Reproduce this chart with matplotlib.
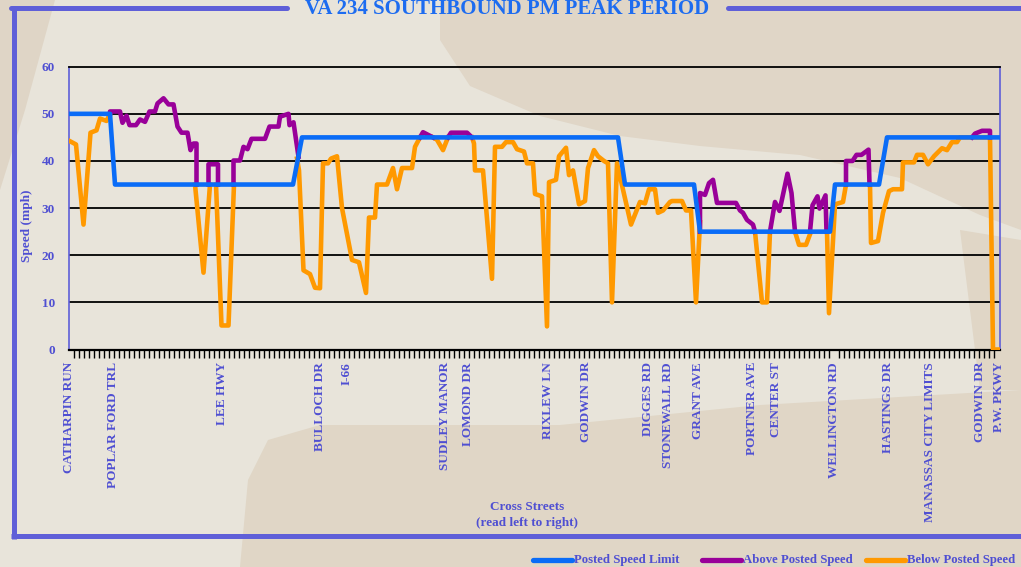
import numpy as np
import matplotlib
matplotlib.use("Agg")
import matplotlib.pyplot as plt
from matplotlib.lines import Line2D
from matplotlib.patches import Polygon

nan = np.nan

# ---------------- data ----------------
# distance along corridor (axis units, left to right) and speeds (mph)
limit_dist = [0, 8.2, 9.2, 44.8, 46.6, 109.8, 111.2, 125.0, 126.2, 152.2, 153.2, 162.0, 163.6, 186.2]
limit_mph = [50, 50, 35, 35, 45, 45, 35, 35, 25, 25, 35, 35, 45, 45]

below_dist = [0, 1.4, 2.9, 4.3, 5.5, 6.2, 7.5, 8.2, nan,
              25.2, 26.9, 28.2, nan,
              29.4, 30.5, 31.9, 33.0, nan,
              45.6, 46.0, 46.9, 48.2, 49.2, 50.2, 50.8, 51.8, 52.4, 53.6, 54.6, 56.6, 58.0, 59.4,
              60.0, 61.2, 61.6, 63.6, 64.8, 65.6, 66.6, 68.6, 69.2, 70.2, nan,
              72.8, 73.6, 74.8, 75.8, nan,
              80.6, 81.0, 81.2, 82.8, 84.6, 85.2, 86.6, 87.4, 88.8, 89.6,
              91.0, 91.6, 92.8, 93.2, 94.6, 95.6, 96.0, 97.4, 98.0, 99.4,
              100.0, 100.8, 102.0, 103.2, 103.8, 105.0, 105.8, 107.0, 107.8, 108.6,
              109.6, 112.4, 114.2, 115.2, 116.0, 117.2, 117.8, 118.8, 120.2, 120.6,
              122.6, 123.4, 124.4, 125.4, 126.2, nan,
              137.2, 138.6, 139.6, 140.2, nan,
              145.2, 146.0, 147.4, 148.4, nan,
              151.6, 152.0, 153.2, 154.8, 155.4, nan,
              160.2, 160.4, 161.8, 162.8, 164.0, 164.8, 166.6, 166.8, 169.0, 169.6,
              170.8, 171.8, 173.0, 174.6, 175.6, 176.6, 177.6, 178.2, 180.6, 184.2,
              184.8, 186.2]
below_mph = [44.3, 43.5, 26.5, 46, 46.5, 49, 48.5, 50, nan,
             35, 16.3, 35, nan,
             35, 5.1, 5.1, 35, nan,
             40.5, 38, 16.8, 16, 13.1, 13, 39.5, 39.5, 40.5, 41, 30, 19, 18.5, 12,
             28, 28, 35, 35, 38.5, 34, 38.5, 38.5, 43, 45, nan,
             45, 44.5, 42.3, 45, nan,
             45, 43.7, 38, 38, 15, 43, 43, 44, 44, 42.5,
             42, 39.5, 39.5, 33, 32.5, 4.9, 35.5, 36, 41, 42.8,
             37, 38, 30.8, 31.5, 38.5, 42.3, 41, 40, 39.5, 10,
             39.5, 26.5, 31.3, 31, 34, 34, 29, 29.5, 31.3, 31.5,
             31.5, 29.5, 29.5, 10, 27, nan,
             25, 10, 10, 25, nan,
             25, 22.2, 22.2, 25, nan,
             25, 7.7, 30.8, 31.3, 35, nan,
             35, 22.6, 23, 29, 33.6, 34, 34, 39.7, 39.7, 41.3,
             41.3, 39.3, 41, 42.7, 42.3, 44, 44, 45, 45, 45,
             0, 0]

above_dist = [8.2, 8.2, 10.2, 10.7, 11.5, 12.1, 13.4, 14.2, 15.2, 16.1, 17.2, 17.7, 18.9, 19.9,
              20.9, 21.7, 22.5, 23.7, 24.3, 24.9, 25.5, 25.5, nan,
              27.9, 27.9, 29.8, 29.8, nan,
              32.9, 32.9, 34.2, 34.9, 35.7, 36.5, 39.2, 40.1, 41.9, 42.2, 43.9, 44.1, 44.9, 45.9, nan,
              70.2, 70.8, 72.8, nan,
              75.8, 76.4, 79.6, 80.6, nan,
              126.2, 126.2, 127.2, 128.0, 128.8, 129.6, 133.4, 134.2, 134.8, 135.6, 136.8, 137.2, nan,
              140.2, 141.2, 142.1, 143.7, 144.5, 145.2, nan,
              148.2, 148.7, 149.7, 150.1, 151.3, 151.5, nan,
              155.4, 155.4, 156.7, 157.5, 158.5, 159.9, 160.1, nan,
              180.6, 181.2, 182.6, 184.2, 184.2]
above_mph = [50, 50.5, 50.5, 48.1, 49.6, 47.6, 47.6, 48.8, 48.3, 50.5, 50.5, 52.2, 53.3, 52,
             52, 47.3, 46, 46, 42.3, 43.7, 43.7, 35, nan,
             35, 39.3, 39.3, 35, nan,
             35, 40.1, 40.1, 43, 42.5, 44.7, 44.7, 47.3, 47.3, 49.4, 50, 47.6, 48.2, 40.9, nan,
             45, 46.1, 45, nan,
             45, 46, 46, 45, nan,
             25, 33.2, 32.8, 35.3, 36, 31.1, 31.1, 29.5, 29, 27.5, 26.5, 25, nan,
             25, 31.3, 29.4, 37.3, 33.2, 25, nan,
             25, 30.6, 32.5, 29.9, 32.7, 25, nan,
             35, 40, 40, 41.3, 41.3, 42.4, 35, nan,
             45, 45.8, 46.4, 46.4, 45]

street_pos = [0, 8.8, 30.6, 50.2, 55.5, 75.2, 79.8, 95.7, 103.3, 115.8, 119.8, 125.8,
              136.6, 141.4, 153.0, 163.8, 172.2, 182.2, 186.0]
street_names = ["CATHARPIN RUN", "POPLAR FORD TRL", "LEE HWY", "BULLOCH DR", "I-66",
                "SUDLEY MANOR", "LOMOND DR", "RIXLEW LN", "GODWIN DR", "DIGGES RD",
                "STONEWALL RD", "GRANT AVE", "PORTNER AVE", "CENTER ST", "WELLINGTON RD",
                "HASTINGS DR", "MANASSAS CITY LIMITS", "GODWIN DR", "P.W. PKWY"]
y_ticks = [0, 10, 20, 30, 40, 50, 60]

title = "VA 234 SOUTHBOUND PM PEAK PERIOD"
series_names = ["Posted Speed Limit", "Above Posted Speed", "Below Posted Speed"]

# ---------------- style ----------------
plt.rcParams["font.family"] = ["Liberation Serif", "DejaVu Serif"]
plt.rcParams["font.weight"] = "bold"

C_LIMIT = "#0A6CF7"
C_ABOVE = "#990099"
C_BELOW = "#FF9900"
C_TEXT = "#4F4FD2"
C_FRAME = "#5F5FD8"
C_TITLE = "#1D6CF0"

W, H = 1021, 567
fig = plt.figure(figsize=(W / 100, H / 100), dpi=100)
fig.patch.set_facecolor("#E8E4DA")


def fp(pts):
    return [(x / W, 1 - y / H) for x, y in pts]


def add_shape(pts, color):
    fig.add_artist(Polygon(fp(pts), closed=True, transform=fig.transFigure,
                           fc=color, ec="none", zorder=0))


# background decoration
add_shape([(440, 0), (1021, 0), (1021, 230), (980, 215), (900, 178), (800, 155), (700, 146),
           (620, 136), (540, 116), (470, 86), (440, 40)], "#E0D6C7")
add_shape([(0, 0), (55, 0), (25, 110), (0, 190)], "#DFD5C6")
add_shape([(240, 567), (248, 480), (268, 440), (320, 425), (560, 425), (760, 405),
           (1021, 390), (1021, 567)], "#E0D6C6")
add_shape([(960, 230), (1021, 240), (1021, 390), (980, 390)], "#E0D6C6")


def fline(xs, ys, color, lw, cap="butt"):
    fig.add_artist(Line2D([x / W for x in xs], [1 - y / H for y in ys], color=color, lw=lw,
                          solid_capstyle=cap, transform=fig.transFigure, zorder=2))


# frame
fline([11, 287], [8, 8], C_FRAME, 3.6, "round")
fline([728, 1030], [8, 8], C_FRAME, 3.6, "round")
fline([13.5, 13.5], [6, 539], C_FRAME, 3.6)
fline([11, 1021], [536, 536], C_FRAME, 3.6)

fig.text(507 / W, 1 - 9 / H, title, ha="center", va="center", fontsize=15,
         color=C_TITLE, fontweight="bold")

# ---------------- axes ----------------
ax = fig.add_axes([69 / W, 1 - 349.5 / H, (1000 - 69) / W, (349.5 - 66.7) / H])
ax.set_facecolor("none")
ax.set_xlim(0, 186.2)
ax.set_ylim(0, 60)

for v in y_ticks[1:-1]:
    ax.axhline(v, color="black", lw=1.3, zorder=1)

ax.plot(below_dist, below_mph, color=C_BELOW, lw=3.3, zorder=3)
ax.plot(above_dist, above_mph, color=C_ABOVE, lw=3.3, zorder=4)
ax.plot(limit_dist, limit_mph, color=C_LIMIT, lw=3.3, zorder=5)

ax.spines["top"].set_color("black")
ax.spines["top"].set_linewidth(1.3)
ax.spines["bottom"].set_color("black")
ax.spines["bottom"].set_linewidth(1.6)
ax.spines["left"].set_color(C_FRAME)
ax.spines["left"].set_linewidth(1.2)
ax.spines["right"].set_color(C_FRAME)
ax.spines["right"].set_linewidth(1.2)

ax.set_xticks(street_pos)
ax.set_xticklabels(street_names, rotation=90, va="top", ha="center")
ax.set_xticks(np.arange(0, 187, 1), minor=True)
ax.tick_params(axis="x", which="major", length=0, pad=9, labelsize=9.5, labelcolor=C_TEXT)
ax.tick_params(axis="x", which="minor", length=6, width=1, color="black", direction="out")

ax.set_yticks(y_ticks)
ax.tick_params(axis="y", length=0, pad=10, labelsize=9.5, labelcolor=C_TEXT)

fig.text(27 / W, 1 - 226 / H, "Speed (mph)", rotation=90, ha="center", va="center",
         fontsize=9.5, color=C_TEXT)
fig.text(527 / W, 1 - 507 / H, "Cross Streets", ha="center", va="center",
         fontsize=9.5, color=C_TEXT)
fig.text(527 / W, 1 - 523 / H, "(read left to right)", ha="center", va="center",
         fontsize=9.5, color=C_TEXT)

# legend
leg = [(533, 572, C_LIMIT, series_names[0]),
       (702, 741, C_ABOVE, series_names[1]),
       (866, 905, C_BELOW, series_names[2])]
for x0, x1, c, name in leg:
    fline([x0, x1], [560, 560], c, 3.8, "round")
    fig.text((x1 + 2) / W, 1 - 560 / H, name, ha="left", va="center", fontsize=9.2,
             color=C_TEXT)

fig.savefig("out.png", dpi=100, facecolor=fig.get_facecolor())
